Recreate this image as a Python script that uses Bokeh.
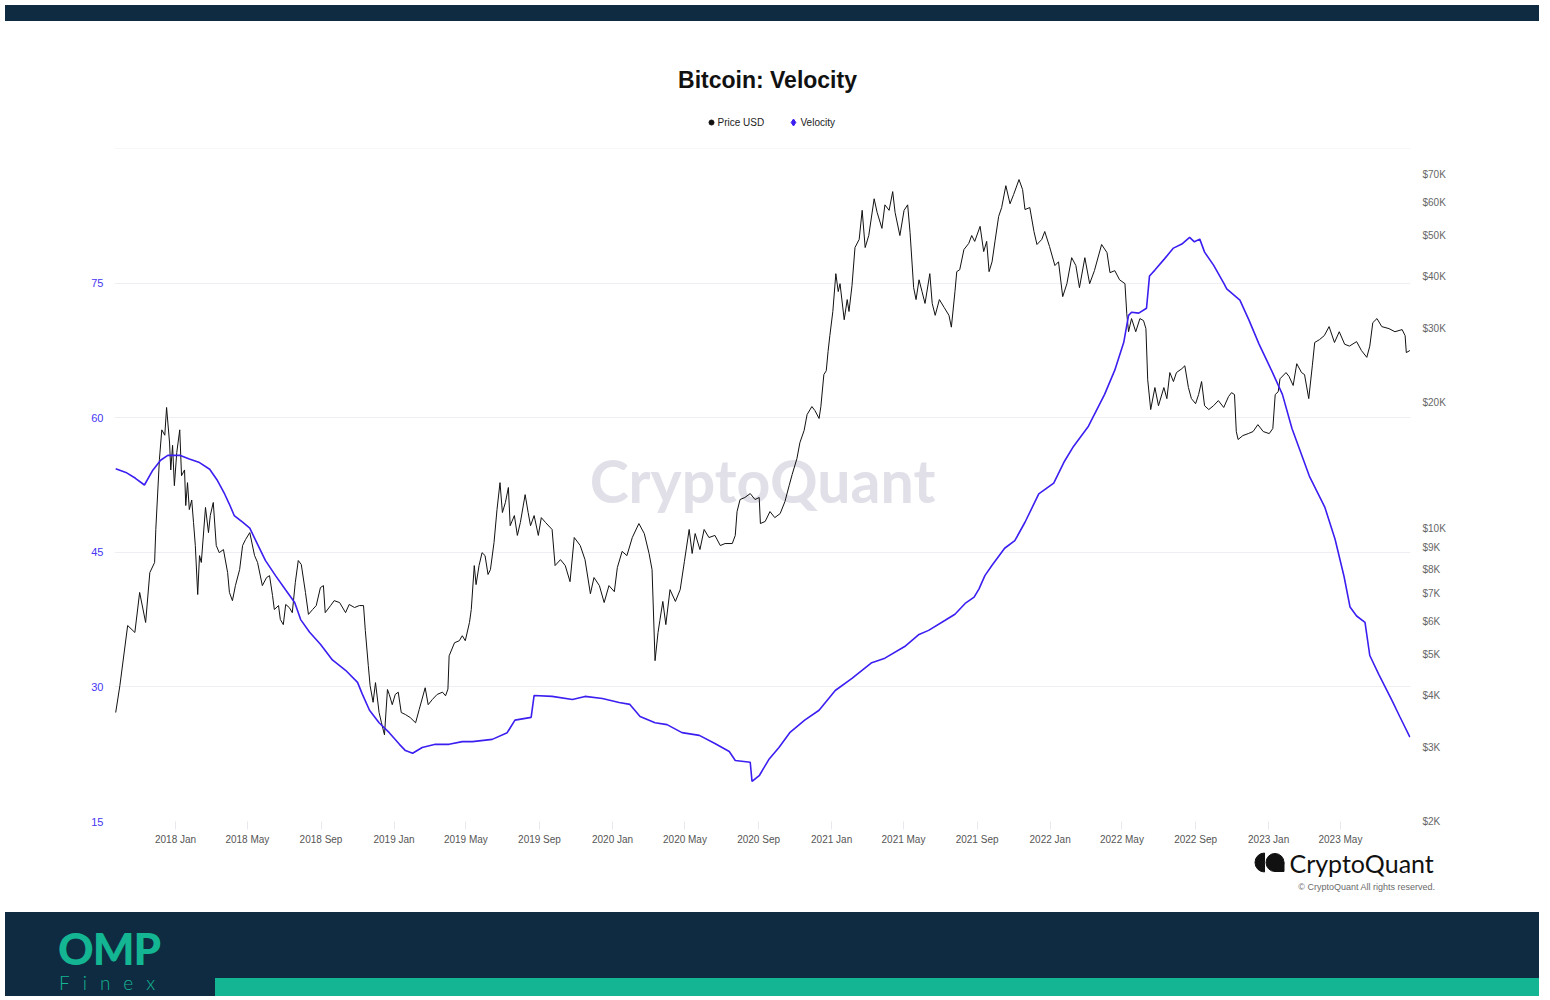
import pandas as pd
from bokeh.plotting import figure
from bokeh.models import (Range1d, LogScale, LogAxis, FixedTicker, Label, Span, Div,
                          DatetimeTickFormatter)
from bokeh.core.properties import value
from bokeh.layouts import column
from bokeh.embed import file_html
from bokeh.resources import INLINE

# ---------------- data ----------------
price_dates = [
    "2017-09-23", "2017-09-30", "2017-10-13", "2017-10-25", "2017-11-02", "2017-11-12", "2017-11-19",
    "2017-11-27", "2017-11-29", "2017-12-05", "2017-12-09", "2017-12-14", "2017-12-17", "2017-12-22",
    "2017-12-24", "2017-12-27", "2017-12-30", "2018-01-03", "2018-01-08", "2018-01-11", "2018-01-16",
    "2018-01-18", "2018-01-21", "2018-01-24", "2018-01-28", "2018-01-31", "2018-02-03", "2018-02-07",
    "2018-02-10", "2018-02-13", "2018-02-20", "2018-02-25", "2018-02-28", "2018-03-05", "2018-03-10",
    "2018-03-15", "2018-03-22", "2018-03-29", "2018-04-01", "2018-04-06", "2018-04-11", "2018-04-18",
    "2018-04-23", "2018-04-28", "2018-05-05", "2018-05-13", "2018-05-18", "2018-05-26", "2018-06-02",
    "2018-06-07", "2018-06-12", "2018-06-15", "2018-06-22", "2018-06-25", "2018-06-30", "2018-07-04",
    "2018-07-10", "2018-07-15", "2018-07-20", "2018-07-25", "2018-07-30", "2018-08-06", "2018-08-11",
    "2018-08-18", "2018-08-24", "2018-08-31", "2018-09-05", "2018-09-08", "2018-09-17", "2018-09-23",
    "2018-10-02", "2018-10-12", "2018-10-18", "2018-10-27", "2018-11-04", "2018-11-11", "2018-11-14",
    "2018-11-19", "2018-11-22", "2018-11-27", "2018-12-01", "2018-12-07", "2018-12-11", "2018-12-16",
    "2018-12-21", "2018-12-24", "2018-12-29", "2019-01-03", "2019-01-08", "2019-01-13", "2019-01-20",
    "2019-01-28", "2019-02-06", "2019-02-12", "2019-02-22", "2019-02-27", "2019-03-06", "2019-03-14",
    "2019-03-23", "2019-03-28", "2019-04-01", "2019-04-03", "2019-04-12", "2019-04-20", "2019-04-25",
    "2019-04-30", "2019-05-07", "2019-05-10", "2019-05-15", "2019-05-18", "2019-05-23", "2019-05-28",
    "2019-06-02", "2019-06-07", "2019-06-11", "2019-06-17", "2019-06-22", "2019-06-27", "2019-07-01",
    "2019-07-06", "2019-07-11", "2019-07-14", "2019-07-21", "2019-07-26", "2019-07-31", "2019-08-08",
    "2019-08-13", "2019-08-17", "2019-08-23", "2019-08-30", "2019-09-04", "2019-09-11", "2019-09-22",
    "2019-09-27", "2019-10-06", "2019-10-14", "2019-10-22", "2019-10-29", "2019-11-08", "2019-11-16",
    "2019-11-25", "2019-12-01", "2019-12-10", "2019-12-18", "2019-12-26", "2020-01-04", "2020-01-09",
    "2020-01-17", "2020-01-25", "2020-02-03", "2020-02-14", "2020-02-23", "2020-03-02", "2020-03-07",
    "2020-03-12", "2020-03-17", "2020-03-20", "2020-03-25", "2020-03-30", "2020-04-06", "2020-04-15",
    "2020-04-23", "2020-04-30", "2020-05-08", "2020-05-13", "2020-05-18", "2020-05-26", "2020-06-02",
    "2020-06-10", "2020-06-20", "2020-06-29", "2020-07-07", "2020-07-19", "2020-07-24", "2020-07-27",
    "2020-08-01", "2020-08-09", "2020-08-18", "2020-08-26", "2020-09-02", "2020-09-04", "2020-09-12",
    "2020-09-20", "2020-09-28", "2020-10-07", "2020-10-15", "2020-10-22", "2020-10-27", "2020-11-04",
    "2020-11-09", "2020-11-16", "2020-11-21", "2020-11-29", "2020-12-04", "2020-12-11", "2020-12-14",
    "2020-12-19", "2020-12-23", "2020-12-26", "2020-12-29", "2021-01-03", "2021-01-08", "2021-01-12",
    "2021-01-15", "2021-01-22", "2021-01-27", "2021-01-30", "2021-02-04", "2021-02-09", "2021-02-16",
    "2021-02-21", "2021-02-26", "2021-03-04", "2021-03-13", "2021-03-18", "2021-03-26", "2021-03-31",
    "2021-04-07", "2021-04-13", "2021-04-17", "2021-04-25", "2021-05-02", "2021-05-08", "2021-05-12",
    "2021-05-18", "2021-05-22", "2021-05-27", "2021-06-01", "2021-06-06", "2021-06-14", "2021-06-18",
    "2021-06-23", "2021-06-30", "2021-07-08", "2021-07-16", "2021-07-20", "2021-07-26", "2021-07-29",
    "2021-08-03", "2021-08-10", "2021-08-18", "2021-08-23", "2021-08-28", "2021-09-06", "2021-09-12",
    "2021-09-17", "2021-09-21", "2021-09-26", "2021-10-01", "2021-10-07", "2021-10-12", "2021-10-19",
    "2021-10-26", "2021-11-01", "2021-11-10", "2021-11-16", "2021-11-20", "2021-11-28", "2021-12-05",
    "2021-12-10", "2021-12-18", "2021-12-23", "2021-12-31", "2022-01-09", "2022-01-15", "2022-01-22",
    "2022-01-29", "2022-02-06", "2022-02-13", "2022-02-19", "2022-02-28", "2022-03-08", "2022-03-16",
    "2022-03-28", "2022-04-06", "2022-04-11", "2022-04-19", "2022-04-27", "2022-05-06", "2022-05-09",
    "2022-05-12", "2022-05-17", "2022-05-24", "2022-05-31", "2022-06-06", "2022-06-10", "2022-06-13",
    "2022-06-18", "2022-06-25", "2022-07-01", "2022-07-10", "2022-07-15", "2022-07-20", "2022-07-26",
    "2022-07-31", "2022-08-09", "2022-08-14", "2022-08-20", "2022-08-25", "2022-09-01", "2022-09-06",
    "2022-09-11", "2022-09-16", "2022-09-23", "2022-10-01", "2022-10-09", "2022-10-18", "2022-10-26",
    "2022-10-31", "2022-11-05", "2022-11-08", "2022-11-11", "2022-11-19", "2022-11-28", "2022-12-06",
    "2022-12-14", "2022-12-23", "2023-01-02", "2023-01-08", "2023-01-12", "2023-01-17", "2023-01-20",
    "2023-01-30", "2023-02-04", "2023-02-11", "2023-02-17", "2023-02-25", "2023-03-02", "2023-03-09",
    "2023-03-15", "2023-03-19", "2023-03-27", "2023-04-04", "2023-04-12", "2023-04-21", "2023-04-29",
    "2023-05-08", "2023-05-16", "2023-05-28", "2023-06-05", "2023-06-14", "2023-06-19", "2023-06-24",
    "2023-07-01", "2023-07-09", "2023-07-21", "2023-07-31", "2023-08-12", "2023-08-17", "2023-08-19",
    "2023-08-25",
]
price_usd = [
    3640, 4220, 5870, 5650, 7040, 5970, 7850,
    8300, 9950, 14600, 17200, 16700, 19450, 16000,
    13800, 15800, 12660, 15180, 17200, 13370, 13800,
    11350, 12870, 11100, 11700, 10340, 9110, 6960,
    8620, 8300, 11230, 9780, 10740, 11540, 9110,
    8760, 8910, 7850, 7040, 6730, 7310, 7980,
    9110, 9420, 9780, 8620, 8300, 7310, 7640,
    7720, 6920, 6410, 6550, 6070, 5900, 6590,
    6480, 6300, 7430, 8390, 8210, 7040, 6240,
    6410, 6550, 7230, 7310, 6300, 6550, 6730,
    6660, 6300, 6590, 6480, 6550, 6550, 5710,
    4710, 4220, 3850, 4290, 3640, 3440, 3220,
    4130, 4020, 3800, 4020, 4070, 3640, 3600,
    3540, 3440, 3700, 4170, 3800, 3910, 4020,
    4070, 3990, 4140, 4970, 5340, 5400, 5550,
    5400, 5970, 6410, 8160, 7350, 8160, 8760,
    8620, 7770, 7980, 9260, 11100, 12870, 10920,
    11540, 12530, 10160, 10740, 9630, 10340, 12050,
    10920, 10160, 10740, 9630, 10620, 10340, 9950,
    8160, 8430, 8160, 7470, 9520, 9110, 8430,
    6990, 7640, 7310, 6660, 7310, 7070, 8070,
    8820, 8620, 9520, 10280, 9730, 8720, 7980,
    4840, 5650, 6030, 6700, 5900, 7150, 6700,
    7150, 8340, 9950, 8720, 9730, 8910, 9950,
    9520, 9630, 9110, 9210, 9210, 9630, 10980,
    11730, 11860, 12120, 11730, 11860, 10280, 10400,
    10980, 10620, 10860, 11600, 12660, 13450, 14690,
    16040, 17140, 18710, 19550, 19130, 18310, 19550,
    23300, 23800, 26440, 28870, 32960, 40570, 36770,
    38400, 31500, 35190, 32960, 37980, 46830, 48970,
    57450, 46830, 50030, 61220, 56800, 52040, 59220,
    57450, 63680, 56800, 50030, 57450, 59220, 50870,
    37570, 35190, 39230, 36770, 34450, 40570, 34450,
    32270, 35190, 33690, 32270, 30240, 36770, 41020,
    41470, 46320, 47900, 50030, 48440, 52610, 45810,
    48440, 41020, 43310, 48590, 55560, 58340, 65790,
    59570, 62660, 68030, 64390, 57700, 58340, 51140,
    47620, 48970, 51140, 47080, 42420, 43310, 35760,
    38400, 44290, 42420, 37570, 44290, 38400, 41250,
    47620, 45540, 40800, 41250, 39230, 38400, 32610,
    29490, 31700, 29490, 31700, 31350, 30000, 22650,
    19230, 21700, 19640, 21700, 20420, 23560, 22430,
    23560, 24070, 24460, 21700, 20420, 19860, 20880,
    22430, 19640, 19230, 19640, 20200, 19450, 20650,
    21100, 20880, 17040, 16310, 16670, 16850, 17040,
    17700, 17040, 16850, 17330, 20880, 21210, 22770,
    23560, 23080, 21950, 24740, 23560, 23300, 20420,
    24460, 27800, 28240, 28870, 30330, 27800, 29490,
    27530, 27250, 27930, 26600, 25620, 27250, 30990,
    31700, 30330, 30000, 29490, 29840, 28870, 26300,
    26600,
]

velocity_dates = [
    "2017-09-23", "2017-10-10", "2017-10-26", "2017-11-10", "2017-11-24", "2017-12-07", "2017-12-19",
    "2018-01-09", "2018-01-24", "2018-02-10", "2018-02-27", "2018-03-12", "2018-03-24", "2018-04-01",
    "2018-04-09", "2018-04-23", "2018-05-05", "2018-05-15", "2018-05-31", "2018-06-17", "2018-07-04",
    "2018-07-19", "2018-07-29", "2018-08-13", "2018-08-31", "2018-09-20", "2018-10-12", "2018-11-01",
    "2018-11-09", "2018-11-21", "2018-12-07", "2018-12-24", "2019-01-10", "2019-01-20", "2019-02-01",
    "2019-02-17", "2019-03-11", "2019-04-03", "2019-04-25", "2019-05-12", "2019-06-14", "2019-07-09",
    "2019-07-22", "2019-08-18", "2019-08-23", "2019-09-22", "2019-10-26", "2019-11-16", "2019-12-15",
    "2020-01-12", "2020-01-30", "2020-02-16", "2020-03-12", "2020-04-01", "2020-04-26", "2020-05-25",
    "2020-06-20", "2020-07-14", "2020-07-24", "2020-08-18", "2020-08-21", "2020-09-02", "2020-09-18",
    "2020-10-05", "2020-10-23", "2020-11-17", "2020-12-11", "2021-01-07", "2021-02-04", "2021-03-09",
    "2021-03-31", "2021-05-03", "2021-05-27", "2021-06-12", "2021-07-09", "2021-07-26", "2021-08-12",
    "2021-08-27", "2021-09-04", "2021-09-14", "2021-09-26", "2021-10-17", "2021-11-03", "2021-11-20",
    "2021-12-13", "2022-01-07", "2022-01-25", "2022-02-09", "2022-03-06", "2022-04-02", "2022-04-19",
    "2022-05-04", "2022-05-12", "2022-05-17", "2022-05-29", "2022-06-11", "2022-06-16", "2022-06-25",
    "2022-07-11", "2022-07-26", "2022-08-09", "2022-08-22", "2022-08-30", "2022-09-08", "2022-09-16",
    "2022-10-01", "2022-10-18", "2022-10-23", "2022-11-14", "2022-11-29", "2022-12-16", "2023-01-07",
    "2023-01-24", "2023-02-09", "2023-03-10", "2023-04-05", "2023-04-22", "2023-05-07", "2023-05-17",
    "2023-05-28", "2023-06-11", "2023-06-19", "2023-07-04", "2023-07-26", "2023-08-08", "2023-08-25",
]
velocity_values = [
    54.3, 53.9, 53.25, 52.5, 54.15, 55.26, 55.8,
    55.8, 55.4, 55.0, 54.26, 53.0, 51.5, 50.35,
    49.1, 48.35, 47.7, 46.3, 44.1, 42.4, 40.8,
    39.4, 37.5, 36.1, 34.75, 33.0, 31.85, 30.5,
    29.2, 27.4, 26.0, 24.9, 23.6, 22.9, 22.6,
    23.25, 23.6, 23.6, 23.9, 23.9, 24.15, 24.9,
    26.3, 26.6, 29.05, 28.94, 28.6, 28.94, 28.7,
    28.27, 28.05, 26.7, 26.0, 25.8, 24.9, 24.6,
    23.7, 22.8, 21.8, 21.6, 19.46, 20.1, 21.9,
    23.25, 24.9, 26.3, 27.4, 29.6, 30.95, 32.7,
    33.2, 34.5, 35.85, 36.3, 37.4, 38.1, 39.3,
    40.0, 40.9, 42.4, 43.55, 45.45, 46.3, 48.35,
    51.5, 52.7, 55.15, 56.8, 59.05, 62.6, 65.3,
    68.4, 71.4, 71.75, 71.65, 72.2, 75.8, 76.45,
    77.7, 78.9, 79.35, 80.1, 79.6, 79.9, 78.45,
    77.0, 75.0, 74.35, 73.1, 70.9, 68.2, 65.1,
    62.6, 58.8, 53.5, 50.0, 46.45, 42.3, 38.9,
    37.9, 37.2, 33.5, 31.4, 28.5, 26.7, 24.4,
]

x_tick_labels = ["2018 Jan", "2018 May", "2018 Sep", "2019 Jan", "2019 May", "2019 Sep",
                 "2020 Jan", "2020 May", "2020 Sep", "2021 Jan", "2021 May", "2021 Sep",
                 "2022 Jan", "2022 May", "2022 Sep", "2023 Jan", "2023 May"]
velocity_ticks = [15, 30, 45, 60, 75]
price_ticks = [2000, 3000, 4000, 5000, 6000, 7000, 8000, 9000, 10000,
               20000, 30000, 40000, 50000, 60000, 70000]
price_tick_labels = ["$2K", "$3K", "$4K", "$5K", "$6K", "$7K", "$8K", "$9K", "$10K",
                     "$20K", "$30K", "$40K", "$50K", "$60K", "$70K"]

title_text = "Bitcoin: Velocity"
series_names = ["Price USD", "Velocity"]

# ---------------- styling ----------------
NAVY = "#0f2b41"
TEAL = "#13b592"
VEL_COLOR = "#3b1ff0"
VEL_LABEL = "#4636f2"
FONT = "Liberation Sans"
W = 1534


def blank_fig(height):
    """A figure whose frame fills the whole canvas; y runs downward in pixels."""
    f = figure(width=W, height=height, x_range=Range1d(0, W), y_range=Range1d(height, 0),
               output_backend="svg", toolbar_location=None, frame_align=False,
               x_axis_location=None, y_axis_location=None,
               min_border=0, min_border_left=0, min_border_right=0,
               min_border_top=0, min_border_bottom=0)
    f.grid.visible = False
    f.outline_line_color = None
    f.background_fill_color = "white"
    f.border_fill_color = "white"
    return f


# ---------------- header: title + legend ----------------
HEAD_H = 118
head = blank_fig(HEAD_H)
head.text(x=[767], y=[53], text=[title_text], text_font=value(FONT), text_font_size="23px",
          text_font_style="bold", text_color="#111111", text_align="center", text_baseline="middle")
head.scatter(x=[711], y=[96], marker="circle", size=5, color="#111111")
head.scatter(x=[793], y=[96], marker="diamond", size=7, color=VEL_COLOR)
head.text(x=[717, 800], y=[96, 96], text=series_names, text_font=value(FONT),
          text_font_size="10px", text_color="#222222", text_align="left", text_baseline="middle")

# ---------------- main chart ----------------
MAIN_H = 705
FL, FR = 114, 1410
p = figure(width=W, height=MAIN_H, x_axis_type="datetime",
           x_range=Range1d(pd.Timestamp("2017-09-21"), pd.Timestamp("2023-08-26")),
           y_range=Range1d(15, 90),
           output_backend="svg", toolbar_location=None, frame_align=False,
           min_border_left=FL, min_border_right=W - FR,
           min_border_top=4, min_border_bottom=28)
p.outline_line_color = None
p.background_fill_color = "white"
p.border_fill_color = "white"

p.extra_y_ranges = {"price": Range1d(2000, 80700)}
p.extra_y_scales = {"price": LogScale()}

ya = p.yaxis[0]
ya.ticker = FixedTicker(ticks=velocity_ticks)
ya.axis_line_color = None
ya.major_tick_line_color = None
ya.major_tick_in = 0
ya.major_tick_out = 0
ya.minor_tick_line_color = None
ya.major_label_standoff = 11
ya.major_label_text_color = VEL_LABEL
ya.major_label_text_font = FONT
ya.major_label_text_font_size = "11px"
p.ygrid.ticker = FixedTicker(ticks=velocity_ticks)
p.ygrid.grid_line_color = "#efeff3"
p.xgrid.grid_line_color = None
p.add_layout(Span(location=90, dimension="width", line_color="#efeff3", line_width=1))

ra = LogAxis(y_range_name="price", ticker=FixedTicker(ticks=price_ticks),
             major_label_overrides={t: l for t, l in zip(price_ticks, price_tick_labels)})
ra.axis_line_color = None
ra.major_tick_line_color = None
ra.major_tick_in = 0
ra.major_tick_out = 0
ra.minor_tick_line_color = None
ra.major_label_standoff = 12
ra.major_label_text_color = "#666666"
ra.major_label_text_font = FONT
ra.major_label_text_font_size = "10px"
p.add_layout(ra, "right")

xa = p.xaxis[0]
xa.ticker = FixedTicker(ticks=[pd.to_datetime(s, format="%Y %b").value / 1e6 for s in x_tick_labels])
fmt = "%Y %b"
xa.formatter = DatetimeTickFormatter(years=fmt, months=fmt, days=fmt, hours=fmt,
                                     minutes=fmt, seconds=fmt, milliseconds=fmt,
                                     microseconds=fmt, minsec=fmt, hourmin=fmt)
xa.axis_line_color = None
xa.major_tick_line_color = "#e8e8ee"
xa.major_tick_in = 0
xa.major_tick_out = 8
xa.minor_tick_line_color = None
xa.major_label_standoff = 4
xa.major_label_text_color = "#555555"
xa.major_label_text_font = FONT
xa.major_label_text_font_size = "10px"

# watermark, behind the lines (position relative to the frame, in pixels)
p.add_layout(Label(x=648, y=341, x_units="screen", y_units="screen", text="CryptoQuant",
                   text_font="Lato", text_font_size="59px", text_font_style="bold",
                   text_color="#e1e0e9", text_align="center", text_baseline="middle",
                   level="underlay"))

p.line(pd.to_datetime(price_dates), price_usd, y_range_name="price",
       line_color="#111111", line_width=1)
p.line(pd.to_datetime(velocity_dates), velocity_values,
       line_color=VEL_COLOR, line_width=1.6)

# ---------------- footer: CryptoQuant brand ----------------
FOOT_H = 58
foot = blank_fig(FOOT_H)
foot.wedge(x=[1264], y=[13], radius=9.5, start_angle=90, end_angle=270,
           start_angle_units="deg", end_angle_units="deg", color="#111111")
foot.circle(x=[1274.5], y=[13], radius=9, color="#111111")
foot.quad(left=[1274.5], right=[1283.5], top=[13], bottom=[22], color="#111111")
foot.text(x=[1289], y=[13], text=["CryptoQuant"], text_font=value("Lato"),
          text_font_size="25px", text_color="#111111", text_align="left", text_baseline="middle")
foot.text(x=[1435], y=[37], text=["© CryptoQuant All rights reserved."], text_font=value(FONT),
          text_font_size="9px", text_color="#6b6b6b", text_align="right", text_baseline="middle")

# ---------------- page bands ----------------
top_band = Div(text="", width=W, height=16, styles={"background-color": NAVY})
bottom_html = f"""<div style="position:relative;width:{W}px;height:84px;background:{NAVY};overflow:hidden;"><div style="position:absolute;left:53px;top:16px;height:40px;font-family:'Lato';font-weight:900;font-size:44px;line-height:40px;color:{TEAL};letter-spacing:-1px;">OMP</div><div style="position:absolute;left:54px;top:61px;height:20px;font-family:'Lato';font-weight:300;font-size:19px;line-height:20px;color:{TEAL};letter-spacing:13px;">Finex</div><div style="position:absolute;left:210px;top:66px;width:{W - 210}px;height:18px;background:{TEAL};"></div></div>"""
bottom_band = Div(text=bottom_html, width=W, height=84, styles={"background-color": NAVY})

layout = column(top_band, head, p, foot, bottom_band, spacing=0)
open("out.html", "w").write(file_html(layout, INLINE))
